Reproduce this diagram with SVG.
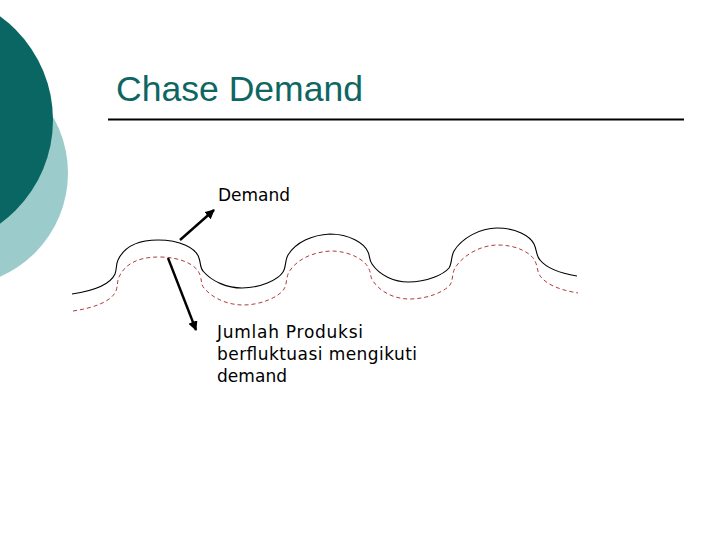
<svg xmlns="http://www.w3.org/2000/svg" width="720" height="540" viewBox="0 0 720 540">
<defs>
<style>
.title{font-family:"Liberation Sans",Arial,sans-serif;font-size:35px;fill:#0e6663;}
.lbl{font-family:"DejaVu Sans",Verdana,sans-serif;font-size:17px;fill:#000;}
.solid{fill:none;stroke:#000;stroke-width:1.1;}
.dash{fill:none;stroke:#b03a3a;stroke-width:1;stroke-dasharray:4 3;}
.arr{fill:none;stroke:#000;stroke-width:2.4;marker-end:url(#ah);}
</style>
<marker id="ah" viewBox="0 0 10 10" refX="9" refY="5" markerWidth="4" markerHeight="4" orient="auto" markerUnits="strokeWidth">
<path d="M0,0 L10,5 L0,10 z" fill="#000"/>
</marker>
<path id="wave" d="M72,294 C92,291 110,285 115,274 C117,268 116,264 118,260 C125,245 140,240 158,240 C180,240 196,248 199,258 C201,264 200,268 203,271 C212,282 228,288 242,288 C260,288 278,280 283,272 C286,268 285,260 288,255 C296,242 312,235 330,234 C350,234 365,244 368,252 C370,256 369,260 372,264 C380,276 395,282 408,282 C428,282 444,274 449,268 C452,264 451,256 454,251 C462,238 480,228 497,228 C516,228 530,236 534,244 C537,250 536,256 540,260 C548,270 565,274 577,276"/>
</defs>
<rect width="720" height="540" fill="#fff"/>
<g id="background">
<circle cx="-45" cy="173" r="113" fill="#9ccbcb"/>
<circle cx="-75" cy="120" r="128" fill="#0a6663"/>
</g>
<g id="title">
<text class="title" x="116" y="101" textLength="247" lengthAdjust="spacingAndGlyphs">Chase Demand</text>
<line x1="108" y1="119.5" x2="684" y2="119.5" stroke="#000" stroke-width="2"/>
</g>
<g id="demand-curve">
<use href="#wave" class="solid"/>
</g>
<g id="production-curve">
<use href="#wave" class="dash" transform="translate(1,17)"/>
</g>
<g id="connectors">
<line class="arr" x1="180" y1="240" x2="214" y2="210"/>
<line class="arr" x1="168" y1="258" x2="196" y2="330"/>
</g>
<g id="label-demand">
<text class="lbl" x="218" y="201" textLength="72" lengthAdjust="spacing">Demand</text>
</g>
<g id="label-produksi">
<text class="lbl" x="217" y="338" textLength="146" lengthAdjust="spacing">Jumlah Produksi</text>
<text class="lbl" x="217" y="360" textLength="200" lengthAdjust="spacing">berfluktuasi mengikuti</text>
<text class="lbl" x="217" y="382" textLength="70" lengthAdjust="spacing">demand</text>
</g>
</svg>
